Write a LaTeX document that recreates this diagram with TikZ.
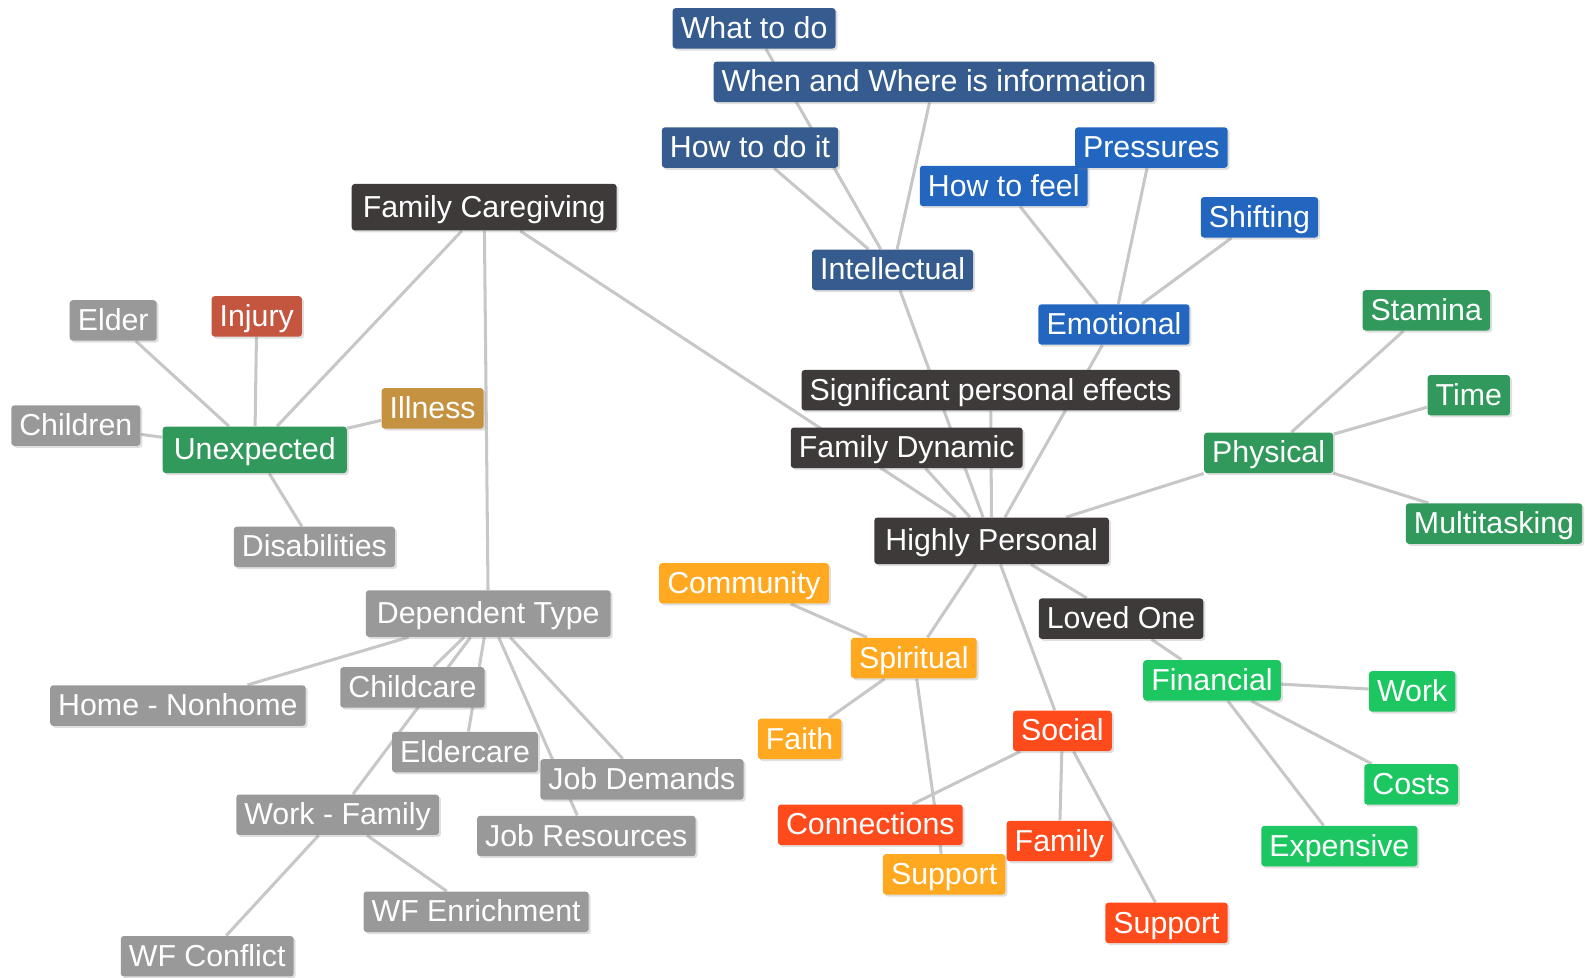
\documentclass[tikz,border=0pt]{standalone}
\usepackage{fontspec}
\setmainfont{Liberation Sans}
\usepackage{tikz}
\usetikzlibrary{backgrounds,shadows}
\definecolor{charcoal}{RGB}{62,58,58}
\definecolor{navy}{RGB}{54,92,143}
\definecolor{brightblue}{RGB}{34,102,192}
\definecolor{stone}{RGB}{153,153,153}
\definecolor{brick}{RGB}{196,86,64}
\definecolor{ochre}{RGB}{196,146,64}
\definecolor{forest}{RGB}{50,153,92}
\definecolor{lime}{RGB}{28,198,96}
\definecolor{amber}{RGB}{255,168,32}
\definecolor{flame}{RGB}{255,74,28}
\tikzset{
    %Define style for boxes
    tag/.style={
           rectangle,
           rounded corners=1.5pt,
           text=white,
           font=\fontsize{15}{18}\selectfont,
           text height=12.1pt,
           text depth=2.1pt,
           inner xsep=4pt,
           inner ysep=2.9pt,
           drop shadow={shadow xshift=1pt, shadow yshift=-1pt, opacity=0.25}
           },
    big/.style={
           inner xsep=5.5pt,
           inner ysep=4.4pt
           },
    darkbox/.style={tag, fill=charcoal},
    navybox/.style={tag, fill=navy},
    bluebox/.style={tag, fill=brightblue},
    greybox/.style={tag, fill=stone},
    injurybox/.style={tag, fill=brick},
    illnessbox/.style={tag, fill=ochre},
    greenbox/.style={tag, fill=forest},
    moneybox/.style={tag, fill=lime},
    orangebox/.style={tag, fill=amber},
    redbox/.style={tag, fill=flame},
    % Define line style
    link/.style={
           draw=black!22,
           line width=1.5pt}
}
\begin{document}
\begin{tikzpicture}[x=0.5pt,y=-0.5pt]
\useasboundingbox (0,0) rectangle (1568,967);

 %nodes
\node[darkbox, big](1) at (479,205){Family Caregiving};
\node[greenbox, big](2) at (252,445){Unexpected};
\node[greybox](3) at (112,317){Elder};
\node[injurybox](4) at (254,313){Injury};
\node[greybox](5) at (75,421){Children};
\node[illnessbox](6) at (428,404){Illness};
\node[greybox](7) at (311,541){Disabilities};
\node[greybox, big](8) at (483,607){Dependent Type};
\node[greybox](9) at (176,698){Home - Nonhome};
\node[greybox](10) at (408,680){Childcare};
\node[greybox](11) at (460,744){Eldercare};
\node[greybox](12) at (635,771){Job Demands};
\node[greybox](13) at (580,827){Job Resources};
\node[greybox](14) at (334,806){Work - Family};
\node[greybox](15) at (471,902){WF Enrichment};
\node[greybox](16) at (205,946){WF Conflict};

\node[darkbox, big](17) at (981,535){Highly Personal};
\node[darkbox](18) at (897,443){Family Dynamic};
\node[darkbox](19) at (980,386){Significant personal effects};
\node[navybox](20) at (883,267){Intellectual};
\node[navybox](21) at (746,28){What to do};
\node[navybox](22) at (924,81){When and Where is information};
\node[navybox](23) at (742,146){How to do it};
\node[bluebox](24) at (1102,321){Emotional};
\node[bluebox](25) at (993,184){How to feel};
\node[bluebox](26) at (1139,146){Pressures};
\node[bluebox](27) at (1246,215){Shifting};

\node[greenbox](28) at (1255,448){Physical};
\node[greenbox](29) at (1411,307){Stamina};
\node[greenbox](30) at (1453,391){Time};
\node[greenbox](31) at (1478,518){Multitasking};

\node[darkbox](32) at (1109,612){Loved One};
\node[moneybox](33) at (1199,673){Financial};
\node[moneybox](34) at (1397,684){Work};
\node[moneybox](35) at (1396,776){Costs};
\node[moneybox](36) at (1325,837){Expensive};

\node[orangebox](37) at (904,651){Spiritual};
\node[orangebox](38) at (736,577){Community};
\node[orangebox](39) at (791,731){Faith};
\node[orangebox](40) at (934,865){Support};
\node[redbox](41) at (1051,723){Social};
\node[redbox](42) at (861,816){Connections};
\node[redbox](43) at (1048,832){Family};
\node[redbox](44) at (1154,913){Support};

 %links
\begin{scope}[on background layer]
 \path[link]
    (1) edge (2) edge (8) edge (17)
    (2) edge (3) edge (4) edge (5) edge (6) edge (7)
    (8) edge (9) edge (10) edge (11) edge (12) edge (13) edge (14)
    (14) edge (15) edge (16)
    (17) edge (18) edge (19) edge (20) edge (24) edge (28) edge (32) edge (37) edge (41)
    (20) edge (21) edge (22) edge (23)
    (24) edge (25) edge (26) edge (27)
    (28) edge (29) edge (30) edge (31)
    (32) edge (33)
    (33) edge (34) edge (35) edge (36)
    (37) edge (38) edge (39) edge (40)
    (41) edge (42) edge (43) edge (44);
\end{scope}
\end{tikzpicture}
\end{document}
